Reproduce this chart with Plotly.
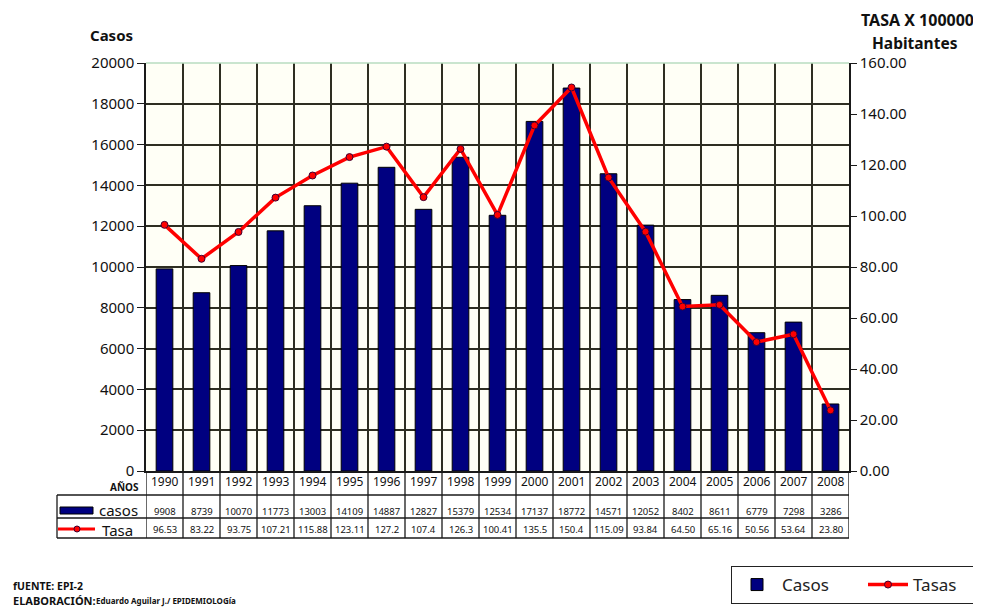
import plotly.graph_objects as go

years = ["1990", "1991", "1992", "1993", "1994", "1995", "1996", "1997", "1998", "1999",
         "2000", "2001", "2002", "2003", "2004", "2005", "2006", "2007", "2008"]
casos = [9908, 8739, 10070, 11773, 13003, 14109, 14887, 12827, 15379, 12534,
         17137, 18772, 14571, 12052, 8402, 8611, 6779, 7298, 3286]
tasa = [96.53, 83.22, 93.75, 107.21, 115.88, 123.11, 127.2, 107.4, 126.3, 100.41,
        135.5, 150.4, 115.09, 93.84, 64.50, 65.16, 50.56, 53.64, 23.80]
tasa_labels = ["96.53", "83.22", "93.75", "107.21", "115.88", "123.11", "127.2", "107.4", "126.3", "100.41",
               "135.5", "150.4", "115.09", "93.84", "64.50", "65.16", "50.56", "53.64", "23.80"]
left_ticks = [0, 2000, 4000, 6000, 8000, 10000, 12000, 14000, 16000, 18000, 20000]
right_ticks = [0, 20, 40, 60, 80, 100, 120, 140, 160]

# page body has an 8px margin; figure sized to fill the rest of the window
OFF = 8
W, H = 981 - OFF, 608 - OFF
# plot area in window pixels
PL, PR, PT, PB = 146, 849, 63, 471
PW = PR - PL
PH = PB - PT


def PX(px):
    return (px - PL) / PW


def PY(py):
    return (PB - py) / PH


NAVY = "#000080"
RED = "#ff0000"
GRID = "#2e2e22"
FONT = "Noto Sans"
TXT = "#111111"

fig = go.Figure()
fig.add_trace(go.Bar(
    x=years, y=casos, name="Casos", width=0.45,
    marker=dict(color=NAVY, line=dict(color="#000000", width=1)),
))
fig.add_trace(go.Scatter(
    x=years, y=tasa, name="Tasas", yaxis="y2", mode="lines+markers",
    line=dict(color=RED, width=3.5),
    marker=dict(symbol="circle", size=7, color=RED, line=dict(color="#400030", width=1)),
))

shapes = []
ann = []

# top light border
shapes.append(dict(type="line", xref="paper", yref="paper", x0=0, x1=1, y0=1, y1=1,
                   line=dict(color="#b8dcc0", width=1.5), layer="above"))

# table grid
y_bottom = PY(538)
for i in range(len(years) + 1):
    shapes.append(dict(type="line", xref="x", yref="paper", x0=i - 0.5, x1=i - 0.5,
                       y0=0, y1=y_bottom, line=dict(color="#1a1a1a", width=1.3)))
shapes.append(dict(type="line", xref="paper", yref="paper", x0=PX(57), x1=PX(57),
                   y0=PY(495), y1=y_bottom, line=dict(color="#1a1a1a", width=1.3)))
for yy in (495, 518, 538):
    shapes.append(dict(type="line", xref="paper", yref="paper", x0=PX(57), x1=1,
                       y0=PY(yy), y1=PY(yy), line=dict(color="#1a1a1a", width=1.3)))

# header keys
shapes.append(dict(type="rect", xref="paper", yref="paper", x0=PX(60), x1=PX(93),
                   y0=PY(514), y1=PY(507), fillcolor=NAVY, line=dict(color="#000000", width=1)))
shapes.append(dict(type="line", xref="paper", yref="paper", x0=PX(58), x1=PX(95),
                   y0=PY(529), y1=PY(529), line=dict(color=RED, width=3)))
shapes.append(dict(type="circle", xref="paper", yref="paper", x0=PX(74), x1=PX(80),
                   y0=PY(532), y1=PY(526), fillcolor=RED, line=dict(color="#400030", width=1)))

ann.append(dict(text="casos", xref="paper", yref="paper", x=PX(97), y=PY(510),
                xanchor="left", yanchor="middle", showarrow=False,
                font=dict(family=FONT, size=15, color=TXT)))
ann.append(dict(text="Tasa", xref="paper", yref="paper", x=PX(100), y=PY(530),
                xanchor="left", yanchor="middle", showarrow=False,
                font=dict(family=FONT, size=15, color=TXT)))
ann.append(dict(text="<b>AÑOS</b>", xref="paper", yref="paper", x=PX(141), y=PY(487),
                xanchor="right", yanchor="middle", showarrow=False,
                font=dict(family=FONT, size=10, color=TXT)))

for i, yr in enumerate(years):
    ann.append(dict(text=yr, xref="x", yref="paper", x=i, y=PY(482),
                    xanchor="center", yanchor="middle", showarrow=False,
                    font=dict(family=FONT, size=12, color=TXT)))
    ann.append(dict(text=str(casos[i]), xref="x", yref="paper", x=i, y=PY(511),
                    xanchor="center", yanchor="middle", showarrow=False,
                    font=dict(family=FONT, size=9.5, color=TXT)))
    ann.append(dict(text=tasa_labels[i], xref="x", yref="paper", x=i, y=PY(529),
                    xanchor="center", yanchor="middle", showarrow=False,
                    font=dict(family=FONT, size=9.5, color=TXT)))

# axis titles
ann.append(dict(text="<b>Casos</b>", xref="paper", yref="paper", x=PX(111), y=PY(35),
                xanchor="center", yanchor="middle", showarrow=False,
                font=dict(family=FONT, size=15, color=TXT)))
ann.append(dict(text="<b>TASA X 100000</b>", xref="paper", yref="paper", x=PX(917), y=PY(20),
                xanchor="center", yanchor="middle", showarrow=False,
                font=dict(family=FONT, size=16, color=TXT)))
ann.append(dict(text="<b>Habitantes</b>", xref="paper", yref="paper", x=PX(915), y=PY(43),
                xanchor="center", yanchor="middle", showarrow=False,
                font=dict(family=FONT, size=15.5, color=TXT)))

# footer
ann.append(dict(text="<b>fUENTE: EPI-2</b>", xref="paper", yref="paper", x=PX(11), y=PY(586),
                xanchor="left", yanchor="middle", showarrow=False,
                font=dict(family=FONT, size=10.5, color=TXT)))
ann.append(dict(text="<b>ELABORACIÓN:</b>", xref="paper", yref="paper", x=PX(11), y=PY(600),
                xanchor="left", yanchor="middle", showarrow=False,
                font=dict(family=FONT, size=11, color=TXT)))
ann.append(dict(text="<b>Eduardo Aguilar J./ EPIDEMIOLOGía</b>", xref="paper", yref="paper",
                x=PX(94), y=PY(601), xanchor="left", yanchor="middle", showarrow=False,
                font=dict(family=FONT, size=8, color=TXT)))

fig.update_layout(
    width=W, height=H,
    margin=dict(l=PL - OFF, r=W - (PR - OFF), t=PT - OFF, b=H - (PB - OFF), autoexpand=False),
    paper_bgcolor="white",
    plot_bgcolor="#fffff6",
    bargap=0.55,
    showlegend=True,
    legend=dict(orientation="h", x=PX(731), y=PY(566), xanchor="left", yanchor="top",
                bordercolor="#222222", borderwidth=1, bgcolor="white",
                font=dict(family=FONT, size=17, color="#222222"),
                entrywidth=76, itemwidth=40, traceorder="normal"),
    xaxis=dict(type="category", range=[-0.5, len(years) - 0.5], tickson="boundaries",
               showticklabels=False, ticks="", showgrid=True, gridcolor=GRID, gridwidth=1.5,
               showline=True, linecolor="#1a1a1a", linewidth=1.5, zeroline=False),
    yaxis=dict(range=[0, 20000], tickvals=left_ticks, ticktext=[str(v) for v in left_ticks],
               showgrid=True, gridcolor=GRID, gridwidth=1.5, zeroline=False,
               showline=True, linecolor="#1a1a1a", linewidth=1.5,
               ticks="outside", ticklen=7, tickcolor="#1a1a1a",
               tickfont=dict(family=FONT, size=15, color=TXT)),
    yaxis2=dict(range=[0, 160], overlaying="y", side="right", tickvals=right_ticks,
                tickformat=".2f", showgrid=False, zeroline=False,
                showline=True, linecolor="#1a1a1a", linewidth=1.5,
                ticks="outside", ticklen=6, tickcolor="#1a1a1a",
                tickfont=dict(family=FONT, size=15, color=TXT)),
    shapes=shapes,
    annotations=ann,
)

fig.write_html("out.html")
